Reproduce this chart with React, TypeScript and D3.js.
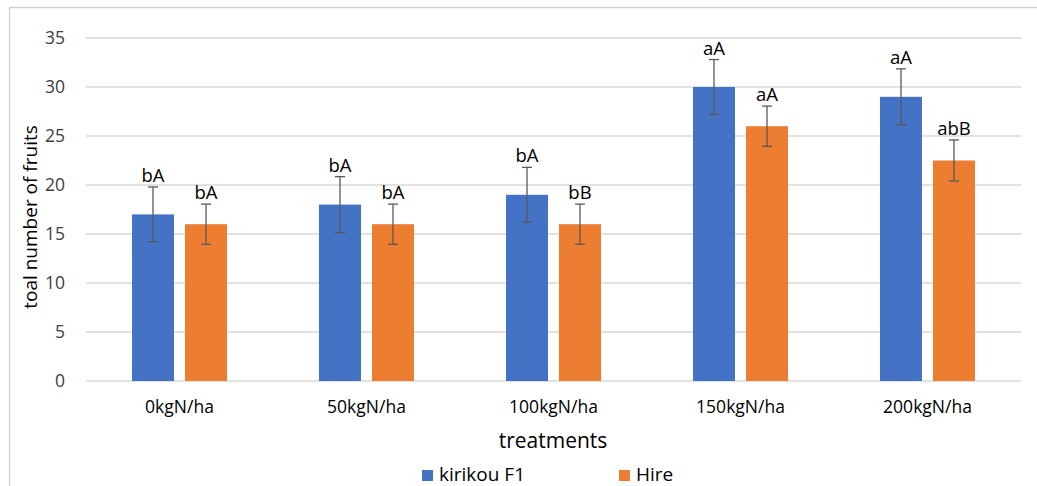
import React from "react";
import * as d3 from "d3";

const categories = ["0kgN/ha", "50kgN/ha", "100kgN/ha", "150kgN/ha", "200kgN/ha"];
const seriesNames = ["kirikou F1", "Hire"];
const kirikou = [17, 18, 19, 30, 29];
const hire = [16, 16, 16, 26, 22.5];
const kirikouErr = [2.8, 2.85, 2.8, 2.8, 2.85];
const hireErr = [2.05, 2.05, 2.05, 2.05, 2.1];
const kirikouLetters = ["bA", "bA", "bA", "aA", "aA"];
const hireLetters = ["bA", "bA", "bB", "aA", "abB"];
const yTicks = [0, 5, 10, 15, 20, 25, 30, 35];

const colors = ["#4472C4", "#ED7D31"];
const FONT = "'Open Sans', sans-serif";

export default function App() {
  const W = 1037, H = 486;
  const left = 86, right = 1021, top = 38, bottom = 381;
  const x = d3.scaleBand().domain(categories).range([left, right]);
  const y = d3.scaleLinear().domain([0, 35]).range([bottom, top]);
  const barW = 42, gap = 11;
  const series = [
    { name: seriesNames[0], vals: kirikou, err: kirikouErr, letters: kirikouLetters, color: colors[0] },
    { name: seriesNames[1], vals: hire, err: hireErr, letters: hireLetters, color: colors[1] },
  ];
  const barX = (c: string, si: number) => {
    const cx = (x(c) as number) + x.bandwidth() / 2;
    return si === 0 ? cx - gap / 2 - barW : cx + gap / 2;
  };
  return (
    <svg width={W} height={H} style={{ position: "absolute", left: 0, top: 0 }} fontFamily={FONT}>
      <rect x={0} y={0} width={W} height={H} fill="#fff" />
      <line x1={9.5} x2={W} y1={7.5} y2={7.5} stroke="#d0d0d0" strokeWidth={1.3} />
      <line x1={9.5} x2={9.5} y1={7.5} y2={H} stroke="#d0d0d0" strokeWidth={1.3} />
      {yTicks.map((t) => (
        <g key={t}>
          <line x1={left} x2={right} y1={y(t)} y2={y(t)} stroke="#d9d9d9" strokeWidth={1.3} />
          <text x={65} y={y(t)} dy="0.36em" textAnchor="end" fontSize={17.5} fill="#404040">{t}</text>
        </g>
      ))}
      {series.map((s, si) =>
        categories.map((c, ci) => {
          const bx = barX(c, si);
          const cx = bx + barW / 2;
          const v = s.vals[ci];
          const e = s.err[ci];
          return (
            <g key={`${si}-${ci}`}>
              <rect x={bx} y={y(v)} width={barW} height={y(0) - y(v)} fill={s.color} />
              <line x1={cx} x2={cx} y1={y(v + e)} y2={y(v - e)} stroke="#595959" strokeWidth={1.3} />
              <line x1={cx - 5} x2={cx + 5} y1={y(v + e)} y2={y(v + e)} stroke="#595959" strokeWidth={1.3} />
              <line x1={cx - 5} x2={cx + 5} y1={y(v - e)} y2={y(v - e)} stroke="#595959" strokeWidth={1.3} />
              <text x={cx} y={y(v + e) - 5} textAnchor="middle" fontSize={18.5} fill="#000">{s.letters[ci]}</text>
            </g>
          );
        })
      )}
      {categories.map((c) => (
        <text key={c} x={(x(c) as number) + x.bandwidth() / 2} y={413} textAnchor="middle" fontSize={17.5} fill="#000">{c}</text>
      ))}
      <text x={553} y={448} textAnchor="middle" fontSize={21} fill="#000">treatments</text>
      <text transform={`translate(37,217) rotate(-90)`} textAnchor="middle" fontSize={19} fill="#000">toal number of fruits</text>
      <g>
        <rect x={422} y={470} width={11} height={11} fill={colors[0]} />
        <text x={439} y={481} fontSize={19} fill="#000">{seriesNames[0]}</text>
        <rect x={619} y={470} width={11} height={11} fill={colors[1]} />
        <text x={636} y={481} fontSize={19} fill="#000">{seriesNames[1]}</text>
      </g>
    </svg>
  );
}
